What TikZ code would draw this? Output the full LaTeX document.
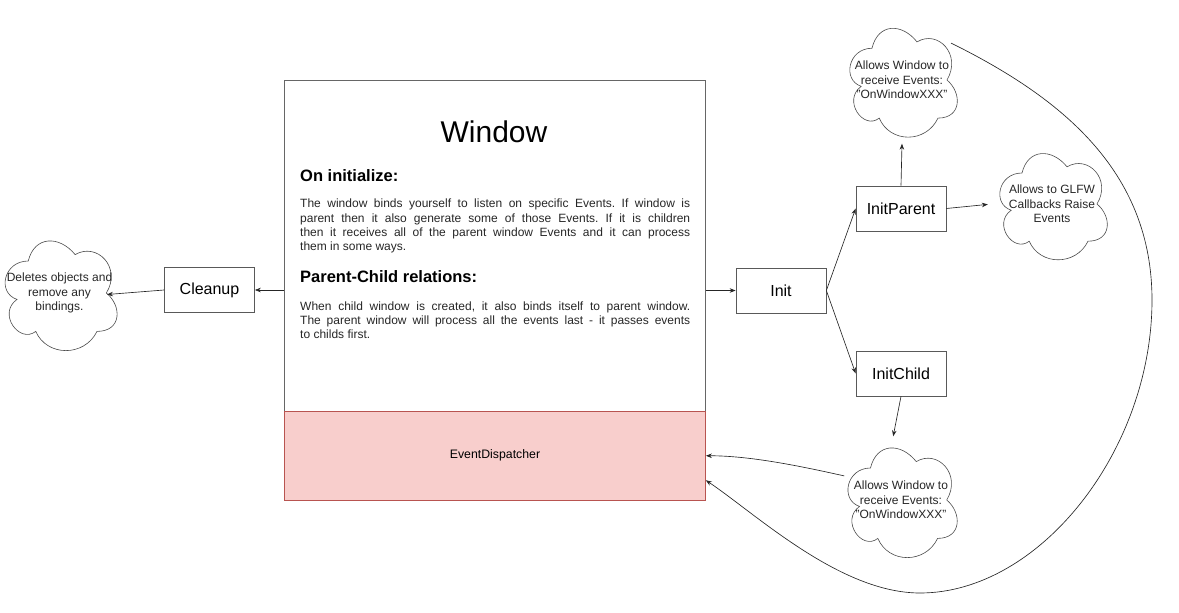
\documentclass[tikz,border=0pt]{standalone}
\usepackage{fontspec}
\setmainfont{Liberation Sans}
\usetikzlibrary{shapes.geometric,arrows.meta,calc}
\definecolor{edfill}{HTML}{F8CECC}
\definecolor{edline}{HTML}{B85450}
\frenchspacing
\newcommand\drawiocloud[5]{%
  \node[cloudbox, minimum width=#4pt, minimum height=#5pt] (#1) at (#2,#3) {};
  \draw[cloudline, shift={(#2,#3)}, x=#4pt, y=-#5pt, shift={(-0.5,-0.5)}]
    (0.25,0.25) .. controls (0.05,0.25) and (0,0.5) .. (0.16,0.55)
    .. controls (0,0.66) and (0.18,0.9) .. (0.31,0.8)
    .. controls (0.4,1) and (0.7,1) .. (0.8,0.8)
    .. controls (1,0.8) and (1,0.6) .. (0.875,0.5)
    .. controls (1,0.3) and (0.8,0.1) .. (0.625,0.2)
    .. controls (0.5,0.05) and (0.3,0.05) .. (0.25,0.25) -- cycle;
}
\begin{document}
\begin{tikzpicture}[x=1pt,y=-1pt,
  box/.style={draw=black!65, line width=0.7pt, minimum width=90pt, minimum height=45pt, inner sep=0pt, font=\fontsize{16}{19}\selectfont},
  cloudbox/.style={ellipse, inner sep=0pt},
  cloudline/.style={draw=black!70, line width=0.6pt},
  cloudtext/.style={align=center, inner sep=0pt, text=black!85, font=\fontsize{12}{14.3}\selectfont},
  para/.style={text width=390pt, align=justify, inner sep=0pt, text=black!85, font=\fontsize{12}{14.4}\selectfont},
  head/.style={inner sep=0pt, font=\bfseries\fontsize{16.5}{19}\selectfont},
  arr/.style={draw=black!85, line width=0.65pt, -{Stealth[length=6pt,width=4.5pt]}}
]
\useasboundingbox (0,0) rectangle (1179,613);

% Window and dispatcher
\node[draw=black!60, line width=0.7pt, minimum width=421pt, minimum height=331.5pt, inner sep=0pt] (win) at (495,245.75) {};
\node[draw=edline, fill=edfill, line width=0.7pt, minimum width=421pt, minimum height=88.5pt, inner sep=0pt, font=\fontsize{12.3}{14}\selectfont] (ed) at (495,455.75) {EventDispatcher};

\node[anchor=base, inner sep=0pt, font=\fontsize{30}{36}\selectfont] (title) at (494,142) {Window};
\node[head, anchor=base west] (h1) at (300,181) {On initialize:};
\node[para, anchor=base west] (p1) at (300,207.7) {The window binds yourself to listen on specific Events. If window is\linebreak parent then it also generate some of those Events. If it is children\linebreak then it receives all of the parent window Events and it can process\linebreak them in some ways.};
\node[head, anchor=base west] (h2) at (300,282) {Parent-Child relations:};
\node[para, anchor=base west] (p2) at (300,310) {When child window is created, it also binds itself to parent window.\linebreak The parent window will process all the events last - it passes events\linebreak to childs first.};

% boxes
\node[box] (cleanup) at (209.5,290) {Cleanup};
\node[box] (init) at (781,290.5) {Init};
\node[box] (ip) at (901,208.5) {InitParent};
\node[box] (ic) at (901,373.5) {InitChild};

% clouds
\drawiocloud{cleft}{59.5}{293}{125}{128}
\node[cloudtext] at (cleft) {Deletes objects and\\remove any\\bindings.};
\coordinate (cleftin) at (107,294.5);
\drawiocloud{ctop}{902}{80}{120}{127}
\node[cloudtext] at (ctop) {Allows Window to\\receive Events:\\"OnWindowXXX"};
\drawiocloud{cright}{1052}{204}{120}{124}
\node[cloudtext] at (cright) {Allows to GLFW\\Callbacks Raise\\Events};
\drawiocloud{cbot}{901}{500}{122}{128}
\node[cloudtext] at (cbot) {Allows Window to\\receive Events:\\"OnWindowXXX"};

% connectors
\draw[arr] (win.west |- cleanup.east) -- (cleanup.east);
\draw[arr] (cleanup.west) -- (cleftin);
\draw[arr] (win.east |- init.west) -- (init.west);
\draw[arr] (init.east) -- (ip.west);
\draw[arr] (init.east) -- (ic.west);
\draw[arr] (ip.north) -- (ctop.south);
\draw[arr, shorten >=4pt] (ip.east) -- (cright.west);
\draw[arr] (ic.south) -- (cbot.97);
\draw[arr] (cbot.157) .. controls (800,466) and (750,455.75) .. (ed.east);
\draw[arr] (ctop.37) .. controls (1060,97) and (1152,170) .. (1152,300)
  .. controls (1152,450) and (1040,593) .. (920,593)
  .. controls (840,593) and (756,514) .. ([yshift=-24.5pt]ed.east);
\end{tikzpicture}
\end{document}
